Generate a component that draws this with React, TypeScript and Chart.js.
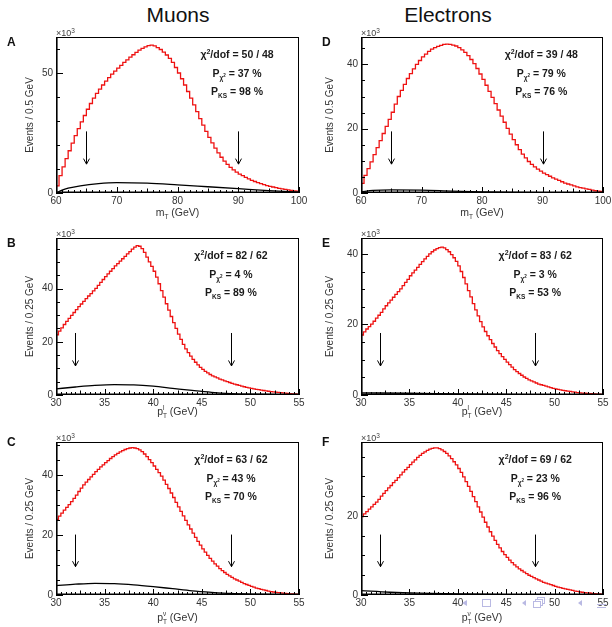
import React, { useEffect, useRef } from 'react';
import { Chart, registerables } from 'chart.js';

Chart.register(...registerables);

const FONT = '"Liberation Sans", Arial, Helvetica, sans-serif';

// ---------------- data (values in units of 10^3 events) ----------------
// A: muons, transverse mass, 0.5 GeV bins from 60 to 100
const muonMtVals = [
  3.0, 7.2, 10.9, 14.3, 17.6, 20.8, 23.9, 26.8, 29.6, 32.3,
  34.9, 37.3, 39.5, 41.5, 43.3, 45.0, 46.6, 48.1, 49.5, 50.8,
  52.0, 53.2, 54.4, 55.5, 56.6, 57.6, 58.6, 59.5, 60.3, 60.9,
  61.4, 61.6, 61.3, 60.6, 59.8, 58.7, 57.5, 56.1, 54.4, 52.3,
  50.0, 47.6, 45.0, 42.3, 39.5, 36.7, 33.9, 31.0, 28.3, 25.7,
  23.2, 20.9, 18.7, 16.7, 14.9, 13.3, 11.9, 10.7, 9.6, 8.7,
  7.9, 7.2, 6.5, 5.9, 5.3, 4.8, 4.3, 3.9, 3.5, 3.1,
  2.8, 2.5, 2.2, 1.9, 1.7, 1.5, 1.3, 1.1, 0.9, 0.8,
];
const muonMtBkgX = [60, 61, 62, 64, 67, 70, 75, 80, 85, 90, 95, 100];
const muonMtBkgY = [0, 1.2, 2.0, 3.0, 3.9, 4.3, 4.1, 3.4, 2.6, 1.8, 1.0, 0.4];

// B: muons, lepton pT, 0.25 GeV bins from 30 to 55
const muonPtlVals = [
  22.6, 24.0, 25.2, 26.5, 27.7, 28.8, 29.9, 31.0, 32.1, 33.2,
  34.2, 35.2, 36.2, 37.2, 38.1, 39.1, 40.1, 41.2, 42.3, 43.4,
  44.5, 45.5, 46.5, 47.5, 48.5, 49.4, 50.3, 51.2, 52.1, 53.0,
  53.9, 54.8, 55.6, 56.1, 55.9, 55.0, 53.6, 51.8, 50.0, 48.3,
  46.5, 44.3, 41.8, 39.2, 36.8, 34.3, 31.9, 29.5, 27.2, 25.0,
  22.9, 20.9, 19.0, 17.3, 15.9, 14.6, 13.4, 12.3, 11.3, 10.4,
  9.6, 8.9, 8.3, 7.7, 7.2, 6.8, 6.4, 6.0, 5.65, 5.3,
  5.0, 4.7, 4.4, 4.1, 3.85, 3.6, 3.35, 3.1, 2.9, 2.7,
  2.5, 2.3, 2.15, 2.0, 1.85, 1.7, 1.55, 1.4, 1.3, 1.2,
  1.1, 1.0, 0.9, 0.8, 0.7, 0.6, 0.5, 0.45, 0.4, 0.35,
];
const muonPtlBkgX = [30, 32, 34, 36, 38, 40, 42, 44, 46, 48, 50, 55];
const muonPtlBkgY = [2.3, 3.0, 3.6, 3.9, 3.8, 3.3, 2.5, 1.7, 1.0, 0.55, 0.3, 0.1];

// C: muons, neutrino pT, 0.25 GeV bins from 30 to 55
const muonPtnVals = [
  25.2, 26.3, 27.3, 28.3, 29.2, 30.1, 31.1, 32.2, 33.3, 34.5,
  35.6, 36.7, 37.6, 38.5, 39.4, 40.2, 41.1, 41.9, 42.7, 43.4,
  44.1, 44.8, 45.5, 46.1, 46.7, 47.2, 47.7, 48.1, 48.5, 48.8,
  49.0, 49.1, 49.0, 48.8, 48.4, 47.8, 47.0, 46.1, 45.1, 44.1,
  43.0, 41.9, 40.8, 39.6, 38.3, 36.9, 35.5, 34.0, 32.5, 30.9,
  29.4, 27.9, 26.4, 24.9, 23.4, 22.0, 20.6, 19.2, 17.9, 16.6,
  15.4, 14.3, 13.2, 12.2, 11.3, 10.4, 9.6, 8.8, 8.1, 7.5,
  6.9, 6.4, 5.9, 5.4, 5.0, 4.6, 4.2, 3.8, 3.5, 3.2,
  2.9, 2.6, 2.3, 2.1, 1.9, 1.7, 1.5, 1.3, 1.15, 1.0,
  0.9, 0.8, 0.7, 0.6, 0.5, 0.45, 0.4, 0.35, 0.3, 0.25,
];
const muonPtnBkgX = [30, 32, 34, 36, 38, 40, 42, 44, 46, 48, 50, 55];
const muonPtnBkgY = [3.1, 3.6, 3.9, 3.8, 3.4, 2.8, 2.1, 1.4, 0.9, 0.5, 0.3, 0.1];

// D: electrons, transverse mass
const eleMtVals = [
  3.0, 5.5, 7.6, 9.7, 11.9, 14.1, 16.3, 18.5, 20.7, 22.9,
  25.1, 27.6, 30.0, 31.9, 33.8, 35.6, 37.1, 38.6, 40.0, 41.2,
  42.3, 43.2, 44.0, 44.7, 45.2, 45.6, 45.9, 46.2, 46.3, 46.2,
  46.0, 45.7, 45.2, 44.5, 43.7, 42.7, 41.5, 40.2, 38.7, 37.0,
  35.3, 33.5, 31.6, 29.7, 27.8, 25.8, 23.9, 22.0, 20.1, 18.3,
  16.6, 15.0, 13.5, 12.1, 10.9, 9.8, 8.9, 8.1, 7.4, 6.8,
  6.2, 5.7, 5.2, 4.7, 4.3, 3.9, 3.5, 3.1, 2.8, 2.5,
  2.2, 1.9, 1.7, 1.5, 1.3, 1.1, 0.9, 0.7, 0.6, 0.5,
];
const eleMtBkgX = [60, 62, 65, 70, 75, 80, 85, 90, 100];
const eleMtBkgY = [0.3, 0.8, 1.0, 0.9, 0.6, 0.35, 0.2, 0.1, 0.05];

// E: electrons, lepton pT
const elePtlVals = [
  17.0, 17.9, 18.7, 19.4, 20.1, 20.9, 21.8, 22.6, 23.4, 24.4,
  25.3, 26.1, 26.9, 27.7, 28.5, 29.3, 30.1, 31.0, 31.9, 32.8,
  33.8, 34.6, 35.4, 36.2, 37.0, 37.8, 38.6, 39.3, 40.0, 40.6,
  41.1, 41.5, 41.8, 41.9, 41.7, 41.2, 40.6, 39.8, 38.9, 37.9,
  36.6, 35.0, 33.3, 31.5, 29.6, 27.8, 25.9, 24.1, 22.4, 20.8,
  19.3, 18.0, 16.8, 15.7, 14.6, 13.6, 12.6, 11.7, 10.9, 10.1,
  9.3, 8.6, 7.9, 7.2, 6.6, 6.1, 5.6, 5.1, 4.7, 4.3,
  4.0, 3.7, 3.4, 3.1, 2.9, 2.7, 2.5, 2.3, 2.1, 1.9,
  1.75, 1.6, 1.45, 1.3, 1.2, 1.1, 1.0, 0.9, 0.8, 0.7,
  0.6, 0.55, 0.5, 0.45, 0.4, 0.35, 0.3, 0.25, 0.22, 0.2,
];
const elePtlBkgX = [30, 35, 40, 45, 50, 55];
const elePtlBkgY = [0.6, 0.5, 0.3, 0.15, 0.05, 0.02];

// F: electrons, neutrino pT
const elePtnVals = [
  19.8, 20.5, 21.1, 21.7, 22.3, 22.9, 23.5, 24.2, 25.0, 25.7,
  26.4, 27.1, 27.7, 28.4, 29.0, 29.7, 30.4, 31.1, 31.7, 32.3,
  33.0, 33.6, 34.2, 34.8, 35.3, 35.8, 36.2, 36.6, 36.9, 37.1,
  37.2, 37.2, 37.0, 36.7, 36.3, 35.8, 35.2, 34.5, 33.7, 32.9,
  32.0, 31.0, 29.9, 28.7, 27.5, 26.2, 24.9, 23.6, 22.3, 21.0,
  19.7, 18.4, 17.2, 16.0, 14.9, 13.8, 12.8, 11.9, 11.0, 10.2,
  9.5, 8.8, 8.2, 7.6, 7.1, 6.6, 6.2, 5.8, 5.4, 5.0,
  4.7, 4.4, 4.1, 3.8, 3.5, 3.2, 3.0, 2.8, 2.6, 2.4,
  2.2, 2.0, 1.85, 1.7, 1.55, 1.4, 1.3, 1.15, 1.0, 0.9,
  0.8, 0.7, 0.6, 0.55, 0.5, 0.42, 0.36, 0.3, 0.26, 0.22,
];
const elePtnBkgX = [30, 33, 36, 40, 45, 50, 55];
const elePtnBkgY = [1.1, 0.7, 0.45, 0.25, 0.12, 0.06, 0.03];

const panelLabels = ['A', 'B', 'C', 'D', 'E', 'F'];
const chi2dof = ['50 / 48', '82 / 62', '63 / 62', '39 / 48', '83 / 62', '69 / 62'];
const pChi2 = ['37', '4', '43', '79', '3', '23'];
const pKS = ['98', '89', '70', '76', '53', '96'];
const mtFitRange = [65, 90];
const ptFitRange = [32, 48];
const yAxisMax = [65, 59, 51, 48.5, 44.5, 38.7];
const yMajorStep = [50, 20, 20, 20, 20, 20];
const yMinorStep = [10, 5, 5, 5, 5, 5];

type Spec = {
  col: number; row: number; xMin: number; xMax: number; binW: number;
  vals: number[]; bkgX: number[]; bkgY: number[];
  xMajor: number; xMinor: number; arrows: number[];
  yTitle: string; xVar: 'mt' | 'ptl' | 'ptn';
};

const specs: Spec[] = [
  { col: 0, row: 0, xMin: 60, xMax: 100, binW: 0.5, vals: muonMtVals, bkgX: muonMtBkgX, bkgY: muonMtBkgY, xMajor: 10, xMinor: 1, arrows: mtFitRange, yTitle: 'Events / 0.5 GeV', xVar: 'mt' },
  { col: 0, row: 1, xMin: 30, xMax: 55, binW: 0.25, vals: muonPtlVals, bkgX: muonPtlBkgX, bkgY: muonPtlBkgY, xMajor: 5, xMinor: 0.5, arrows: ptFitRange, yTitle: 'Events / 0.25 GeV', xVar: 'ptl' },
  { col: 0, row: 2, xMin: 30, xMax: 55, binW: 0.25, vals: muonPtnVals, bkgX: muonPtnBkgX, bkgY: muonPtnBkgY, xMajor: 5, xMinor: 0.5, arrows: ptFitRange, yTitle: 'Events / 0.25 GeV', xVar: 'ptn' },
  { col: 1, row: 0, xMin: 60, xMax: 100, binW: 0.5, vals: eleMtVals, bkgX: eleMtBkgX, bkgY: eleMtBkgY, xMajor: 10, xMinor: 1, arrows: mtFitRange, yTitle: 'Events / 0.5 GeV', xVar: 'mt' },
  { col: 1, row: 1, xMin: 30, xMax: 55, binW: 0.25, vals: elePtlVals, bkgX: elePtlBkgX, bkgY: elePtlBkgY, xMajor: 5, xMinor: 0.5, arrows: ptFitRange, yTitle: 'Events / 0.25 GeV', xVar: 'ptl' },
  { col: 1, row: 2, xMin: 30, xMax: 55, binW: 0.25, vals: elePtnVals, bkgX: elePtnBkgX, bkgY: elePtnBkgY, xMajor: 5, xMinor: 0.5, arrows: ptFitRange, yTitle: 'Events / 0.25 GeV', xVar: 'ptn' },
];

// ---------------- layout ----------------
const FRAME_L = [56, 361];
const FRAME_R = [299, 603];
const FRAME_T = [37, 238, 442];
const FRAME_B = [193, 395, 595];
const CANVAS_L = [0, 305];
const CANVAS_W = [312, 307];
const PAD_T = 24;
const XAXIS_H = 32;
const STAT_FRAC = [0.745, 0.72, 0.72];
const YTITLE_X = [30, 25];
const LETTER_X = [7, 17];
const LETTER_DY = [9, 9, 4];
const XTITLE_DY = [23, 20, 26];

type Seg = { t: string; size: number; dy?: number; bold?: boolean; noAdv?: boolean };

function drawSegs(ctx: CanvasRenderingContext2D, segs: Seg[], x: number, y: number, align: 'center' | 'left') {
  let total = 0;
  for (const s of segs) {
    ctx.font = `${s.bold ? 'bold ' : ''}${s.size}px ${FONT}`;
    if (!s.noAdv) total += ctx.measureText(s.t).width;
  }
  let cx = align === 'center' ? x - total / 2 : x;
  ctx.textAlign = 'left';
  ctx.textBaseline = 'alphabetic';
  for (const s of segs) {
    ctx.font = `${s.bold ? 'bold ' : ''}${s.size}px ${FONT}`;
    ctx.fillText(s.t, cx, y + (s.dy || 0));
    if (!s.noAdv) cx += ctx.measureText(s.t).width;
  }
}

function xTitleSegs(v: 'mt' | 'ptl' | 'ptn'): Seg[] {
  const S = 10.5, s = 6.5;
  if (v === 'mt') return [{ t: 'm', size: S }, { t: 'T', size: s, dy: 3 }, { t: ' (GeV)', size: S }];
  return [
    { t: 'p', size: S },
    { t: v === 'ptl' ? 'l' : 'ν', size: s, dy: -5, noAdv: true },
    { t: 'T', size: s, dy: 3 },
    { t: ' (GeV)', size: S },
  ];
}

function Panel({ p, idx }: { p: Spec; idx: number }) {
  const ref = useRef<HTMLCanvasElement>(null);
  const left = CANVAS_L[p.col];
  const width = CANVAS_W[p.col];
  const top = FRAME_T[p.row] - PAD_T;
  const height = FRAME_B[p.row] - FRAME_T[p.row] + PAD_T + XAXIS_H;
  const padRight = width - (FRAME_R[p.col] - left);
  const yAxisW = FRAME_L[p.col] - left;

  useEffect(() => {
    const yMax = yAxisMax[idx];
    const yMajor = yMajorStep[idx];
    const yMinor = yMinorStep[idx];
    const hist = [{ x: p.xMin, y: 0 }, ...p.vals.map((v, i) => ({ x: p.xMin + i * p.binW, y: v })), { x: p.xMax, y: p.vals[p.vals.length - 1] }];
    const bkg = p.bkgX.map((x, i) => ({ x, y: p.bkgY[i] }));

    const overlay = {
      id: 'overlay' + idx,
      afterDraw(chart: any) {
        const { ctx, chartArea: a } = chart;
        const xs = chart.scales.x, ys = chart.scales.y;
        ctx.save();
        ctx.strokeStyle = '#000';
        ctx.lineWidth = 1;
        ctx.beginPath();
        const nY = Math.round(yMax / yMinor);
        for (let k = 0; k <= nY; k++) {
          const v = k * yMinor;
          if (v > yMax) break;
          const y = Math.round(ys.getPixelForValue(v)) + 0.5;
          const r = v / yMajor;
          const major = Math.abs(r - Math.round(r)) < 1e-6;
          ctx.moveTo(a.left, y);
          ctx.lineTo(a.left + (major ? 7 : 4), y);
        }
        const nX = Math.round((p.xMax - p.xMin) / p.xMinor);
        for (let k = 0; k <= nX; k++) {
          const v = p.xMin + k * p.xMinor;
          const x = Math.round(xs.getPixelForValue(v)) + 0.5;
          const r = v / p.xMajor;
          const major = Math.abs(r - Math.round(r)) < 1e-6;
          const r2 = v / (p.xMajor / 2);
          const half = Math.abs(r2 - Math.round(r2)) < 1e-6;
          ctx.moveTo(x, a.bottom);
          ctx.lineTo(x, a.bottom - (major ? 6 : half ? 4.5 : 3));
        }
        ctx.stroke();
        // frame
        ctx.strokeRect(Math.round(a.left) + 0.5, Math.round(a.top) + 0.5, Math.round(a.right - a.left) - 1, Math.round(a.bottom - a.top) - 1);
        ctx.lineWidth = 1.6;
        ctx.beginPath();
        ctx.moveTo(a.left + 0.8, a.top);
        ctx.lineTo(a.left + 0.8, a.bottom - 0.8);
        ctx.lineTo(a.right, a.bottom - 0.8);
        ctx.stroke();
        // arrows at fit range
        ctx.lineWidth = 1;
        const h = a.bottom - a.top;
        for (const ax of p.arrows) {
          const x = Math.round(xs.getPixelForValue(ax)) + 0.5;
          const y0 = a.bottom - 0.395 * h;
          const y1 = a.bottom - 0.185 * h;
          ctx.beginPath();
          ctx.moveTo(x, y0);
          ctx.lineTo(x, y1);
          ctx.moveTo(x - 3, y1 - 5.5);
          ctx.lineTo(x, y1);
          ctx.lineTo(x + 3, y1 - 5.5);
          ctx.stroke();
        }
        // texts
        ctx.fillStyle = '#1a1a1a';
        const cx = a.left + STAT_FRAC[p.row] * (a.right - a.left);
        const B = 10.5;
        drawSegs(ctx, [
          { t: 'χ', size: B, bold: true }, { t: '2', size: 7, dy: -4, bold: true },
          { t: '/dof = ' + chi2dof[idx], size: B, bold: true },
        ], cx, a.top + 21, 'center');
        drawSegs(ctx, [
          { t: 'P', size: B, bold: true }, { t: 'χ', size: 6.5, dy: 3, bold: true },
          { t: '2', size: 4.5, dy: 0, bold: true },
          { t: ' = ' + pChi2[idx] + ' %', size: B, bold: true },
        ], cx, a.top + 39.5, 'center');
        drawSegs(ctx, [
          { t: 'P', size: B, bold: true }, { t: 'KS', size: 6.5, dy: 3, bold: true },
          { t: ' = ' + pKS[idx] + ' %', size: B, bold: true },
        ], cx, a.top + 58, 'center');
        // panel letter
        ctx.fillStyle = '#111';
        drawSegs(ctx, [{ t: panelLabels[idx], size: 12, bold: true }], LETTER_X[p.col], a.top + LETTER_DY[p.row], 'left');
        // x10^3
        ctx.fillStyle = '#444';
        drawSegs(ctx, [{ t: '×10', size: 9 }, { t: '3', size: 6.5, dy: -3.5 }], a.left, a.top - 1, 'left');
        // x title
        ctx.fillStyle = '#333';
        drawSegs(ctx, xTitleSegs(p.xVar), (a.left + a.right) / 2, a.bottom + XTITLE_DY[p.row], 'center');
        // y title
        ctx.save();
        ctx.translate(YTITLE_X[p.col], (a.top + a.bottom) / 2);
        ctx.rotate(-Math.PI / 2);
        ctx.font = `10px ${FONT}`;
        ctx.textAlign = 'center';
        ctx.textBaseline = 'middle';
        ctx.fillText(p.yTitle, 0, 0);
        ctx.restore();
        ctx.restore();
      },
    };

    const chart = new Chart(ref.current as HTMLCanvasElement, {
      type: 'line',
      data: {
        datasets: [
          { data: bkg, borderColor: '#000', borderWidth: 1.3, pointRadius: 0, cubicInterpolationMode: 'monotone', fill: false } as any,
          { data: hist, borderColor: 'rgb(238,18,18)', borderWidth: 1.3, pointRadius: 0, stepped: 'before', fill: false } as any,
        ],
      },
      options: {
        animation: false,
        responsive: false,
        maintainAspectRatio: false,
        events: [],
        layout: { padding: { top: PAD_T, left: 0, right: padRight, bottom: 0 } },
        plugins: { legend: { display: false }, tooltip: { enabled: false }, title: { display: false } },
        scales: {
          x: {
            type: 'linear', min: p.xMin, max: p.xMax,
            border: { display: false },
            grid: { display: false, drawTicks: false },
            ticks: { stepSize: p.xMajor, padding: 2, color: '#333', font: { family: FONT, size: 10 }, maxRotation: 0, autoSkip: false },
            afterFit: (s: any) => { s.height = XAXIS_H; s.paddingLeft = 0; s.paddingRight = 0; },
          },
          y: {
            type: 'linear', min: 0, max: yMax,
            border: { display: false },
            grid: { display: false, drawTicks: false },
            ticks: { stepSize: yMajor, includeBounds: false, padding: 3, color: '#333', font: { family: FONT, size: 10 } },
            afterFit: (s: any) => { s.width = yAxisW; s.paddingTop = 0; s.paddingBottom = 0; },
          },
        },
      } as any,
      plugins: [overlay],
    });
    return () => chart.destroy();
  }, []);

  return (
    <canvas
      ref={ref}
      width={width}
      height={height}
      style={{ position: 'absolute', left, top, width, height }}
    />
  );
}

function NavIcons() {
  const c = '#b9b9e3';
  return (
    <svg width={612} height={627} style={{ position: 'absolute', left: 0, top: 0, pointerEvents: 'none' }}>
      <polygon points="467,600 462,603 467,606" fill={c} />
      <rect x={482.5} y={599.5} width={8} height={7} fill="none" stroke={c} />
      <polygon points="526,600 522,603 526,606" fill={c} />
      <rect x={537.5} y={597.5} width={7} height={6} fill="#fff" stroke={c} />
      <rect x={535.5} y={599.5} width={7} height={6} fill="#fff" stroke={c} />
      <rect x={533.5} y={601.5} width={7} height={6} fill="#fff" stroke={c} />
      <polygon points="582,600 578,603 582,606" fill={c} />
      <line x1={597} y1={604.5} x2={606} y2={604.5} stroke={c} />
      <line x1={597} y1={607.5} x2={606} y2={607.5} stroke={c} />
    </svg>
  );
}

const titleStyle = (x: number): React.CSSProperties => ({
  position: 'absolute', left: x, top: 14, transform: 'translate(-50%, -50%)',
  fontFamily: FONT, fontSize: 21, lineHeight: '21px', color: '#111', whiteSpace: 'nowrap',
});

export default function App() {
  return (
    <div style={{ position: 'absolute', left: 0, top: 0, width: 612, height: 627, background: '#fff', overflow: 'hidden' }}>
      <div style={titleStyle(178)}>Muons</div>
      <div style={titleStyle(448)}>Electrons</div>
      {specs.map((p, i) => <Panel key={i} p={p} idx={i} />)}
      <NavIcons />
    </div>
  );
}
